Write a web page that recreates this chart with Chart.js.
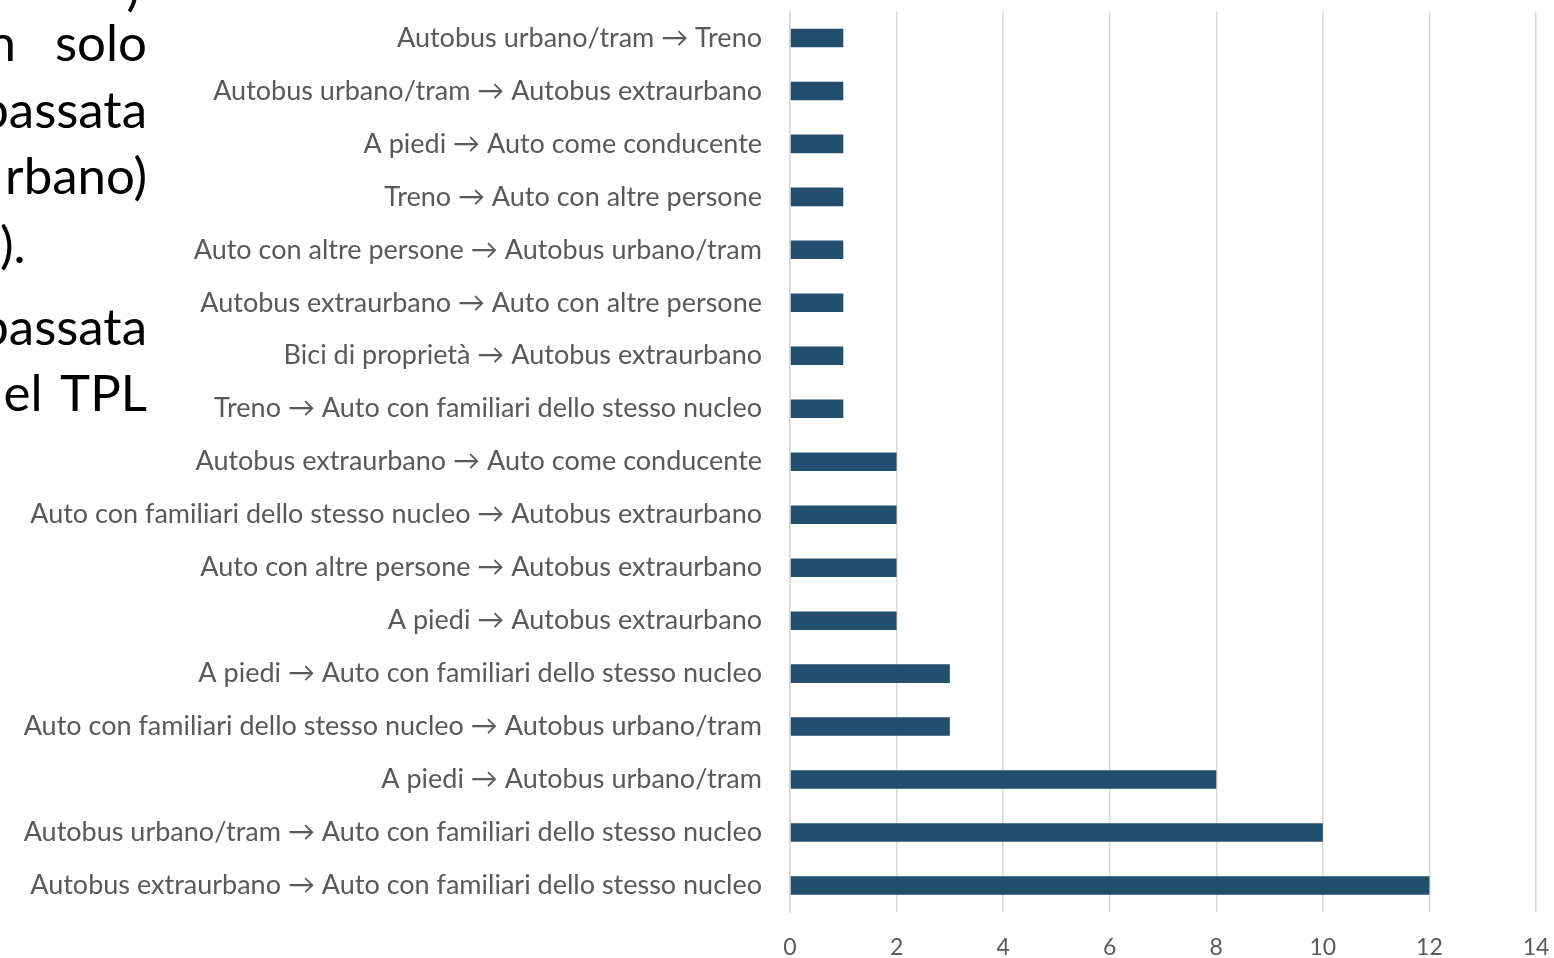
<!DOCTYPE html>
<html>
<head>
<meta charset="utf-8">
<script src="https://cdn.jsdelivr.net/npm/chart.js@4/dist/chart.umd.min.js"></script>
<style>
    html, body { margin: 0; padding: 0; background: #fff; overflow: hidden; }
    #wrap { position: relative; width: 1554px; height: 958px; }
    #sideText { position: absolute; left: 0; top: 0; width: 148px; height: 430px; overflow: hidden;
        font-family: Lato, sans-serif; font-size: 51px; color: #000; }
    #sideText div { position: absolute; right: 1px; white-space: pre; line-height: 1; }
</style>
</head>
<body>
<div id="wrap">
    <canvas id="chart" width="1554" height="958"></canvas>
    <div id="sideText">
        <div style="top:-40px; right:8px">)</div>
        <div style="top:16px">n   solo</div>
        <div style="top:83px">passata</div>
        <div style="top:149px">rbano)</div>
        <div style="top:218px; left:0; right:auto">).</div>
        <div style="top:300px">passata</div>
        <div style="top:366px; word-spacing:6px">del TPL</div>
    </div>
</div>
<script>
const categories = [
    'Autobus urbano/tram → Treno',
    'Autobus urbano/tram → Autobus extraurbano',
    'A piedi → Auto come conducente',
    'Treno → Auto con altre persone',
    'Auto con altre persone → Autobus urbano/tram',
    'Autobus extraurbano → Auto con altre persone',
    'Bici di proprietà → Autobus extraurbano',
    'Treno → Auto con familiari dello stesso nucleo',
    'Autobus extraurbano → Auto come conducente',
    'Auto con familiari dello stesso nucleo → Autobus extraurbano',
    'Auto con altre persone → Autobus extraurbano',
    'A piedi → Autobus extraurbano',
    'A piedi → Auto con familiari dello stesso nucleo',
    'Auto con familiari dello stesso nucleo → Autobus urbano/tram',
    'A piedi → Autobus urbano/tram',
    'Autobus urbano/tram → Auto con familiari dello stesso nucleo',
    'Autobus extraurbano → Auto con familiari dello stesso nucleo'
];
const counts = [1, 1, 1, 1, 1, 1, 1, 1, 2, 2, 2, 2, 3, 3, 8, 10, 12];
const xTicks = [0, 2, 4, 6, 8, 10, 12, 14];

const ctx = document.getElementById('chart').getContext('2d');
new Chart(ctx, {
    type: 'bar',
    data: {
        labels: categories,
        datasets: [{
            data: counts,
            backgroundColor: '#234f6e',
            barPercentage: 0.7,
            categoryPercentage: 0.5
        }]
    },
    options: {
        indexAxis: 'y',
        responsive: false,
        animation: false,
        layout: { padding: { top: 0, right: 18, left: 0, bottom: 0 } },
        plugins: { legend: { display: false }, tooltip: { enabled: false } },
        scales: {
            x: {
                min: 0,
                max: 14,
                afterBuildTicks: s => { s.ticks = xTicks.map(v => ({ value: v })); },
                // transparent tick marks only push the labels down
                grid: { color: '#d9d9d9', lineWidth: 1.5, drawTicks: true, tickLength: 20, tickColor: 'rgba(0,0,0,0)' },
                border: { display: false },
                ticks: { color: '#595959', font: { family: 'Lato', size: 23 }, padding: 2 },
                afterFit: s => { s.height = 46; }
            },
            y: {
                grid: { display: true, drawOnChartArea: false, drawTicks: true, tickLength: 26, tickColor: 'rgba(0,0,0,0)' },
                border: { color: '#d9d9d9', width: 1.5 },
                ticks: { color: '#595959', font: { family: 'Lato', size: 27, lineHeight: 0.7 }, padding: 2, autoSkip: false },
                afterFit: s => { s.width = 790; }
            }
        }
    }
});
</script>
</body>
</html>
